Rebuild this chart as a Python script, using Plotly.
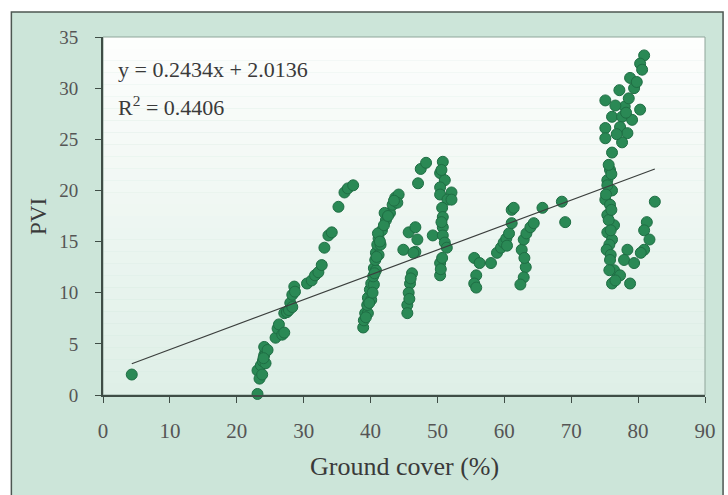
import plotly.graph_objects as go

# ---------------- data ----------------
ground_cover = [
    4.3,
    23.1, 23.1, 23.4, 23.6, 23.9, 24.1, 24.3, 24.1, 24.6, 24.3, 23.8, 24.0,
    25.8, 26.1, 26.3, 26.8, 27.1, 27.1, 27.5, 27.8, 28.0, 28.3, 28.3, 28.6, 28.7,
    30.5, 31.2, 31.7, 32.2, 32.7, 33.1, 33.7, 34.2, 35.2, 36.1, 36.6, 37.4,
    38.9, 39.0, 39.2, 39.6, 39.5, 39.6, 40.1, 39.9, 40.1, 40.5, 40.4, 40.5, 40.8,
    40.7, 40.8, 41.2, 41.0, 41.5, 41.2, 41.7, 42.3, 42.9, 43.3, 43.7, 44.2, 44.0,
    42.1, 41.1, 39.3, 39.8, 40.3, 40.6, 40.9, 41.4, 42.0, 42.6, 43.5,
    44.9, 45.7, 46.7, 47.0, 46.7, 46.4, 46.2, 45.9, 45.7, 45.5, 45.5, 46.0, 45.8,
    47.1, 47.5, 48.3,
    50.8, 50.4, 51.1, 50.4, 52.1, 50.4, 51.5, 50.7, 50.8, 50.8, 49.3, 50.8,
    51.1, 51.4, 50.4, 50.4, 52.1, 50.6, 50.6, 50.7, 50.5,
    55.5, 56.3, 55.8, 55.5, 55.8, 58.0,
    58.9, 59.5, 59.9, 60.3, 60.7, 61.1, 61.1, 61.4, 60.4,
    62.6, 62.9, 63.3, 63.9, 64.4, 63.2, 62.9, 62.4, 63.0,
    65.7, 68.6, 69.1,
    80.9, 80.3, 80.6, 78.8, 79.4, 77.2, 75.1, 78.0, 80.3, 76.1, 77.6, 79.1,
    77.3, 75.1, 78.4, 75.1, 77.6, 76.1, 78.6, 76.8, 79.8, 78.2, 76.6,
    75.8, 75.4, 76.1, 75.1, 75.8, 75.4, 76.4, 75.4, 76.1, 75.7, 75.4, 76.0, 75.6,
    75.6, 75.2, 76.0, 75.9, 75.3, 75.9,
    82.5, 81.3, 80.9, 81.7, 80.9,
    78.4, 77.9, 79.4, 75.8, 76.4, 77.3, 76.1, 78.8, 75.7, 76.6, 80.4,
]
pvi = [
    2.0,
    0.1, 2.4, 1.6, 2.9, 3.3, 3.9, 4.3, 4.7, 4.4, 3.1, 2.0, 3.6,
    5.6, 6.5, 6.9, 5.9, 6.1, 8.0, 8.1, 8.3, 9.0, 8.6, 9.8, 10.6, 10.1,
    10.9, 11.2, 11.7, 12.0, 12.7, 14.4, 15.6, 15.9, 18.4, 19.8, 20.2, 20.5,
    6.6, 7.3, 8.0, 8.0, 8.8, 9.5, 9.3, 10.3, 10.9, 10.8, 11.6, 12.4, 12.2,
    13.2, 13.9, 13.7, 14.7, 14.7, 15.3, 16.1, 17.1, 17.8, 18.6, 19.3, 19.6, 18.8,
    17.8, 15.8, 7.6, 9.0, 10.0, 11.9, 13.5, 15.0, 16.6, 17.5, 19.0,
    14.2, 15.9, 16.4, 15.2, 14.0, 13.9, 11.9, 10.9, 10.0, 8.8, 8.0, 11.4, 9.4,
    20.7, 22.1, 22.7,
    22.8, 21.7, 21.0, 20.3, 19.8, 19.6, 19.1, 18.3, 17.4, 16.4, 15.6, 15.6,
    14.9, 14.4, 12.9, 11.7, 19.1, 22.0, 16.9, 13.4, 12.3,
    13.4, 12.9, 11.7, 10.9, 10.5, 12.9,
    13.9, 14.4, 14.9, 15.3, 15.8, 16.8, 18.1, 18.3, 14.6,
    14.2, 15.2, 15.8, 16.4, 16.8, 12.5, 11.5, 10.8, 13.4,
    18.3, 18.9, 16.9,
    33.2, 32.4, 31.8, 31.0, 30.0, 29.8, 28.8, 28.2, 27.9, 27.2, 27.2, 26.9,
    26.2, 26.1, 25.6, 25.1, 24.7, 23.7, 29.0, 25.5, 30.6, 27.6, 28.3,
    22.0, 21.0, 20.0, 19.1, 18.6, 17.6, 16.6, 15.9, 15.2, 14.7, 20.5, 21.6, 17.1,
    22.5, 19.6, 18.1, 16.1, 14.2, 13.7,
    18.9, 16.9, 16.1, 15.2, 14.2,
    14.2, 13.2, 12.9, 13.2, 12.2, 11.7, 10.9, 10.9, 12.2, 11.2, 13.9,
]

slope = 0.2434
intercept = 2.0136
r_squared = 0.4406
trend_x = [min(ground_cover), max(ground_cover)]
trend_y = [slope * v + intercept for v in trend_x]

x_ticks = [0, 10, 20, 30, 40, 50, 60, 70, 80, 90]
y_ticks = [0, 5, 10, 15, 20, 25, 30, 35]

# ---------------- figure ----------------
SERIF = "Liberation Serif, Times New Roman, serif"
fig = go.Figure()

fig.add_trace(go.Scatter(
    x=ground_cover, y=pvi, mode="markers",
    marker=dict(size=11, color="#2a8955", line=dict(color="#1f6e44", width=1)),
    cliponaxis=False, showlegend=False,
))
fig.add_trace(go.Scatter(
    x=trend_x, y=trend_y, mode="lines",
    line=dict(color="#3b3f3d", width=1.2), showlegend=False,
))

shapes = []
# outer teal panel with dark frame
shapes.append(dict(type="rect", xref="paper", yref="paper",
                   x0=-0.1522, x1=1.03, y0=-0.29, y1=1.0698,
                   fillcolor="#cce5d9", line=dict(color="#4d5752", width=1.5),
                   layer="below"))
# gradient inside plot area (white top -> pale mint bottom)
n = 30
top = (253, 254, 253)
bot = (223, 239, 231)
for i in range(n):
    f = i / (n - 1)
    c = tuple(int(round(bot[k] + (top[k] - bot[k]) * f)) for k in range(3))
    shapes.append(dict(type="rect", xref="paper", yref="paper",
                       x0=0, x1=1, y0=i / n, y1=(i + 1) / n,
                       fillcolor="rgb(%d,%d,%d)" % c, line=dict(width=0),
                       layer="below"))
# thin frame around plot area (top/right)
shapes.append(dict(type="rect", xref="paper", yref="paper", x0=0, x1=1, y0=0, y1=1,
                   line=dict(color="#8fa59a", width=1), layer="below"))

fig.update_layout(
    width=728, height=495,
    margin=dict(l=103, r=14, t=37, b=100),
    paper_bgcolor="white",
    plot_bgcolor="#e6f2ec",
    shapes=shapes,
    font=dict(family=SERIF, color="#444"),
    xaxis=dict(range=[0, 90], tickvals=x_ticks, ticktext=[str(t) for t in x_ticks],
               showgrid=False, zeroline=False, showline=True, linecolor="#3f4d46",
               linewidth=2, ticks="outside", ticklen=6, tickcolor="#3f4d46",
               tickfont=dict(family=SERIF, size=21, color="#555"),
               ticklabelstandoff=10),
    yaxis=dict(range=[0, 35], tickvals=y_ticks, ticktext=[str(t) for t in y_ticks],
               showgrid=False, zeroline=False, showline=True, linecolor="#3f4d46",
               linewidth=2, ticks="outside", ticklen=6, tickcolor="#3f4d46",
               tickfont=dict(family=SERIF, size=19, color="#555"),
               ticklabelstandoff=13),
    annotations=[
        dict(text="y = %.4fx + %.4f" % (slope, intercept), x=2.0, y=31.8,
             xref="x", yref="y", xanchor="left", yanchor="middle", showarrow=False,
             font=dict(family=SERIF, size=22, color="#3a3a3a")),
        dict(text="R<sup>2</sup> = %.4f" % r_squared, x=2.0, y=28.3,
             xref="x", yref="y", xanchor="left", yanchor="middle", showarrow=False,
             font=dict(family=SERIF, size=22, color="#3a3a3a")),
        dict(text="Ground cover (%)", x=0.5, y=-0.201, xref="paper", yref="paper",
             xanchor="center", yanchor="middle", showarrow=False,
             font=dict(family=SERIF, size=26, color="#3a3a3a")),
        dict(text="PVI", x=-0.108, y=0.5, xref="paper", yref="paper",
             xanchor="center", yanchor="middle", textangle=-90, showarrow=False,
             font=dict(family=SERIF, size=23, color="#3a3a3a")),
    ],
)

fig.write_html("out.html")
